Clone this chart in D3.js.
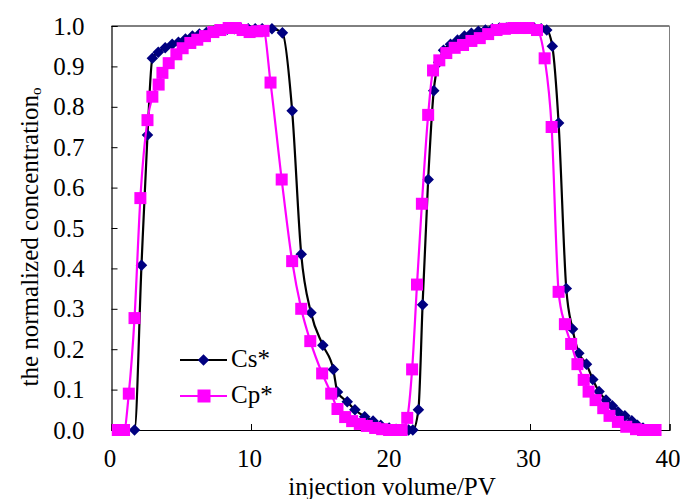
<!DOCTYPE html>
<html>
<head>
<meta charset="utf-8">
<script src="https://cdn.jsdelivr.net/npm/d3@7"></script>
<style>
    body { margin: 0; background: #fff; }
    svg text { font-family: "Liberation Serif", "Tinos", "Times New Roman", "DejaVu Serif", serif; }
</style>
</head>
<body>
<div id="chart"></div>
<script>
// 0.data
var xTicks = [0, 10, 20, 30, 40];
var yTicks = [0, 0.1, 0.2, 0.3, 0.4, 0.5, 0.6, 0.7, 0.8, 0.9, 1.0];
var seriesNames = ["Cs*", "Cp*"];

// [injection volume, concentration]
var csData = [[0.5,0],[1.0,0],[1.65,0],[2.15,0.408],[2.58,0.73],[2.93,0.92],[3.35,0.935],[3.85,0.946],
    [4.35,0.955],[4.8,0.96],[5.3,0.968],[5.8,0.975],[6.3,0.98],[6.8,0.984],[7.3,0.987],[7.8,0.99],
    [8.3,0.992],[8.8,0.993],[9.3,0.993],[9.8,0.993],[10.3,0.993],[10.8,0.993],[11.5,0.993],[12.25,0.983],
    [12.95,0.79],[13.6,0.435],[14.3,0.29],[15.15,0.21],[15.9,0.15],[16.2,0.094],[16.9,0.07],[17.45,0.05],
    [18.15,0.033],[18.75,0.022],[19.3,0.012],[19.9,0.005],[20.4,0.002],[20.9,0],[21.3,0],[21.6,0],
    [22.0,0.05],[22.3,0.31],[22.7,0.62],[23.1,0.84],[23.45,0.91],[23.8,0.94],[24.3,0.955],[24.8,0.965],
    [25.3,0.975],[25.8,0.982],[26.3,0.987],[26.8,0.99],[27.3,0.993],[27.8,0.995],[28.3,0.995],[28.8,0.995],
    [29.3,0.995],[29.8,0.995],[30.3,0.995],[30.8,0.993],[31.2,0.99],[31.6,0.95],[32.05,0.76],[32.6,0.35],
    [33.05,0.25],[33.5,0.19],[34.05,0.163],[34.5,0.125],[34.95,0.095],[35.45,0.074],[35.9,0.06],[36.3,0.045],
    [36.8,0.035],[37.3,0.023],[37.7,0.012],[38.1,0.005],[38.5,0]];

var cpData = [[0.45,0],[0.9,0],[1.24,0.09],[1.65,0.277],[2.07,0.574],[2.58,0.767],[2.93,0.825],[3.38,0.855],
    [3.65,0.884],[4.1,0.908],[4.65,0.93],[5.1,0.945],[5.65,0.958],[6.15,0.966],[6.7,0.975],[7.3,0.985],
    [7.8,0.99],[8.4,0.995],[8.9,0.995],[9.4,0.99],[9.9,0.985],[10.45,0.987],[10.9,0.988],[11.4,0.86],
    [12.2,0.62],[12.95,0.418],[13.6,0.30],[14.25,0.22],[15.1,0.14],[15.75,0.09],[16.2,0.052],[16.75,0.032],
    [17.25,0.022],[17.8,0.015],[18.3,0.01],[18.9,0.005],[19.4,0.002],[19.9,0],[20.4,0],[20.8,0],
    [21.2,0.03],[21.55,0.15],[21.9,0.36],[22.25,0.56],[22.7,0.78],[23.05,0.89],[23.5,0.915],[24.0,0.933],
    [24.6,0.946],[25.2,0.953],[25.8,0.963],[26.4,0.97],[27.0,0.98],[27.6,0.99],[28.2,0.993],[28.8,0.995],
    [29.3,0.995],[29.9,0.995],[30.5,0.99],[31.05,0.92],[31.55,0.75],[32.05,0.342],[32.5,0.262],[32.95,0.213],
    [33.4,0.163],[33.85,0.124],[34.2,0.095],[34.7,0.074],[35.25,0.054],[35.7,0.035],[36.3,0.02],[36.9,0.008],
    [37.6,0.002],[38.1,0],[38.55,0],[39.0,0]];

// 0.1.size
var svgBGW = 680, svgBGH = 499;
var plot = {left: 111.5, right: 669.5, top: 26, bottom: 430};
var serif = "'Liberation Serif', 'Tinos', 'Times New Roman', 'DejaVu Serif', serif";

// 1.svg
var svg = d3.select("#chart").append("svg")
    .attr("width", svgBGW).attr("height", svgBGH)
    .attr("font-family", serif);

var x = d3.scaleLinear().domain([0, 40]).range([plot.left, plot.right]);
var y = d3.scaleLinear().domain([0, 1]).range([plot.bottom, plot.top]);

// frame: top black, right gray
svg.append("line").attr("x1", plot.left).attr("x2", plot.right)
    .attr("y1", plot.top).attr("y2", plot.top).attr("stroke", "#000");
svg.append("line").attr("x1", plot.right).attr("x2", plot.right)
    .attr("y1", plot.top).attr("y2", plot.bottom).attr("stroke", "#808080");

// 2.axes
var yAxis = d3.axisLeft(y).tickValues(yTicks).tickSize(-6).tickPadding(27)
    .tickFormat(d3.format(".1f"));
var gy = svg.append("g").attr("transform", "translate(" + plot.left + ",0)").call(yAxis);

var xAxis = d3.axisBottom(x).tickValues(xTicks).tickSize(-6).tickPadding(19)
    .tickFormat(d3.format("d"));
var gx = svg.append("g").attr("transform", "translate(0," + plot.bottom + ")").call(xAxis);

[gx, gy].forEach(function (g) {
    g.attr("font-family", serif).attr("font-size", 25);
    g.select(".domain").attr("stroke", "#000").attr("stroke-width", 1.2);
    g.selectAll(".tick line").attr("stroke", "#000");
    g.selectAll("text").attr("fill", "#000");
});
gx.selectAll(".tick text").attr("dx", -2);

// titles
svg.append("text")
    .attr("x", 392).attr("y", 495)
    .attr("text-anchor", "middle")
    .attr("font-size", 25)
    .text("injection volume/PV");

var yt = svg.append("text")
    .attr("transform", "translate(38,237) rotate(-90)")
    .attr("text-anchor", "middle")
    .attr("font-size", 25);
yt.append("tspan").text("the normalized concentration");
yt.append("tspan").attr("font-size", 15).attr("dy", 3).text("o");

// 3.series
var line = d3.line()
    .x(function (d) { return x(d[0]); })
    .y(function (d) { return y(d[1]); })
    .curve(d3.curveMonotoneX);

var diamond = d3.symbol().type(d3.symbolDiamond2).size(85);

function drawCs(g, data) {
    g.append("path").datum(data).attr("d", line)
        .attr("fill", "none").attr("stroke", "#000").attr("stroke-width", 2.2);
    g.selectAll(".cs").data(data).enter().append("path").attr("class", "cs")
        .attr("d", diamond)
        .attr("transform", function (d) { return "translate(" + x(d[0]) + "," + y(d[1]) + ")"; })
        .attr("fill", "#000080");
}

function drawCp(g, data) {
    g.append("path").datum(data).attr("d", line)
        .attr("fill", "none").attr("stroke", "#ff00ff").attr("stroke-width", 2.2);
    g.selectAll(".cp").data(data).enter().append("rect").attr("class", "cp")
        .attr("x", function (d) { return x(d[0]) - 6; })
        .attr("y", function (d) { return y(d[1]) - 6; })
        .attr("width", 12).attr("height", 12)
        .attr("fill", "#ff00ff");
}

drawCs(svg.append("g"), csData);
drawCp(svg.append("g"), cpData);

// 4.legend
var legend = svg.append("g");
var legY = [360, 396];
legend.append("line").attr("x1", 180).attr("x2", 227).attr("y1", legY[0]).attr("y2", legY[0])
    .attr("stroke", "#000").attr("stroke-width", 2.2);
legend.append("path").attr("d", diamond)
    .attr("transform", "translate(203.5," + legY[0] + ")").attr("fill", "#000080");
legend.append("line").attr("x1", 180).attr("x2", 227).attr("y1", legY[1]).attr("y2", legY[1])
    .attr("stroke", "#ff00ff").attr("stroke-width", 2.2);
legend.append("rect").attr("x", 197.5).attr("y", legY[1] - 6.5).attr("width", 13).attr("height", 13)
    .attr("fill", "#ff00ff");
legend.selectAll(".lt").data(seriesNames).enter().append("text").attr("class", "lt")
    .attr("x", 231)
    .attr("y", function (d, i) { return legY[i] + 7; })
    .attr("font-size", 25)
    .text(function (d) { return d; });
</script>
</body>
</html>
